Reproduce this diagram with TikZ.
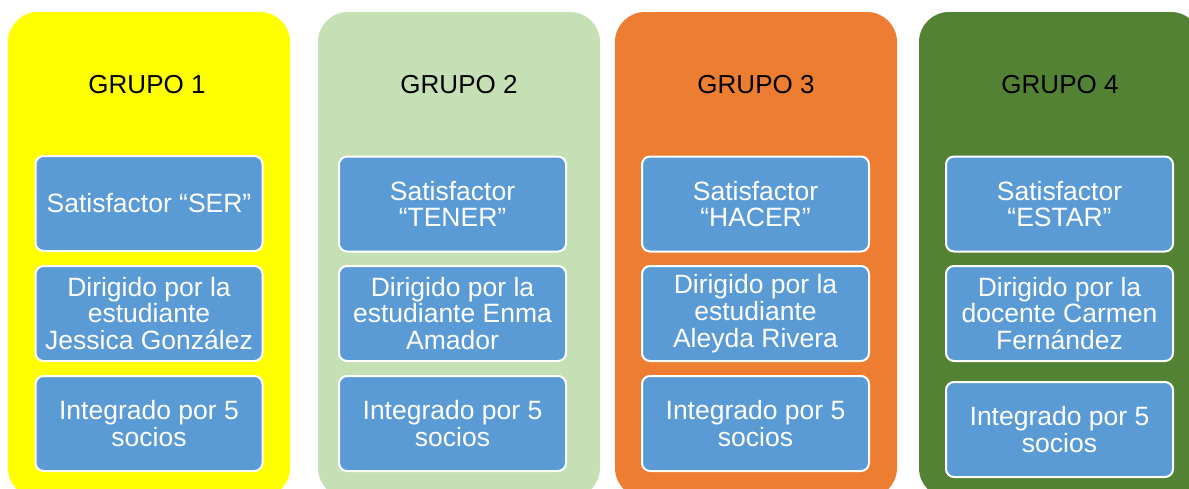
\documentclass[tikz,border=0pt]{standalone}
\usepackage{fontspec}
\setmainfont{Liberation Sans}
\definecolor{cyel}{HTML}{FFFF00}
\definecolor{clgr}{HTML}{C5E0B4}
\definecolor{cora}{HTML}{ED7D31}
\definecolor{cdgr}{HTML}{548235}
\definecolor{cblu}{HTML}{5B9BD5}
\begin{document}
\begin{tikzpicture}[x=1pt,y=-1pt,
  panel/.style={rounded corners=30pt},
  title/.style={anchor=base,text=black,inner sep=0pt,font=\fontsize{26}{26.7}\selectfont},
  item/.style={draw=white,line width=2pt,fill=cblu,rounded corners=8pt,
    minimum width=227pt,minimum height=95pt,inner sep=0pt,text=white,align=center,
    font=\fontsize{26.5}{26.7}\selectfont}]
\useasboundingbox (0,0) rectangle (1189,488);
\clip (0,0) rectangle (1189,488);
\fill[white] (0,0) rectangle (1189,488);
% panels
\fill[panel,cyel] (8,12) rectangle (290,498);
\fill[panel,clgr] (318,12) rectangle (600,498);
\fill[panel,cora] (615,12) rectangle (897,498);
\fill[panel,cdgr] (919,12) rectangle (1201,498);
% titles
\node[title] (t1) at (147,93) {GRUPO 1};
\node[title] (t2) at (459,93) {GRUPO 2};
\node[title] (t3) at (756,93) {GRUPO 3};
\node[title] (t4) at (1060,93) {GRUPO 4};
% group 1
\node[item] (a1) at (149,203.5) {Satisfactor “SER”};
\node[item] (a2) at (149,313.5) {Dirigido por la\\estudiante\\Jessica González};
\node[item] (a3) at (149,423.5) {Integrado por 5\\socios};
% group 2
\node[item] (b1) at (452.5,204) {Satisfactor\\“TENER”};
\node[item] (b2) at (452.5,313.5) {Dirigido por la\\estudiante Enma\\Amador};
\node[item] (b3) at (452.5,423.5) {Integrado por 5\\socios};
% group 3
\node[item] (c1) at (755.5,204) {Satisfactor\\“HACER”};
\node[item] (c2) at (755.5,313.5) {Dirigido por la\\estudiante\\Aleyda Rivera};
\node[item] (c3) at (755.5,423.5) {Integrado por 5\\socios};
% group 4
\node[item] (d1) at (1059.5,204) {Satisfactor\\“ESTAR”};
\node[item] (d2) at (1059.5,313.5) {Dirigido por la\\docente Carmen\\Fernández};
\node[item] (d3) at (1059.5,429.5) {Integrado por 5\\socios};
\end{tikzpicture}
\end{document}
